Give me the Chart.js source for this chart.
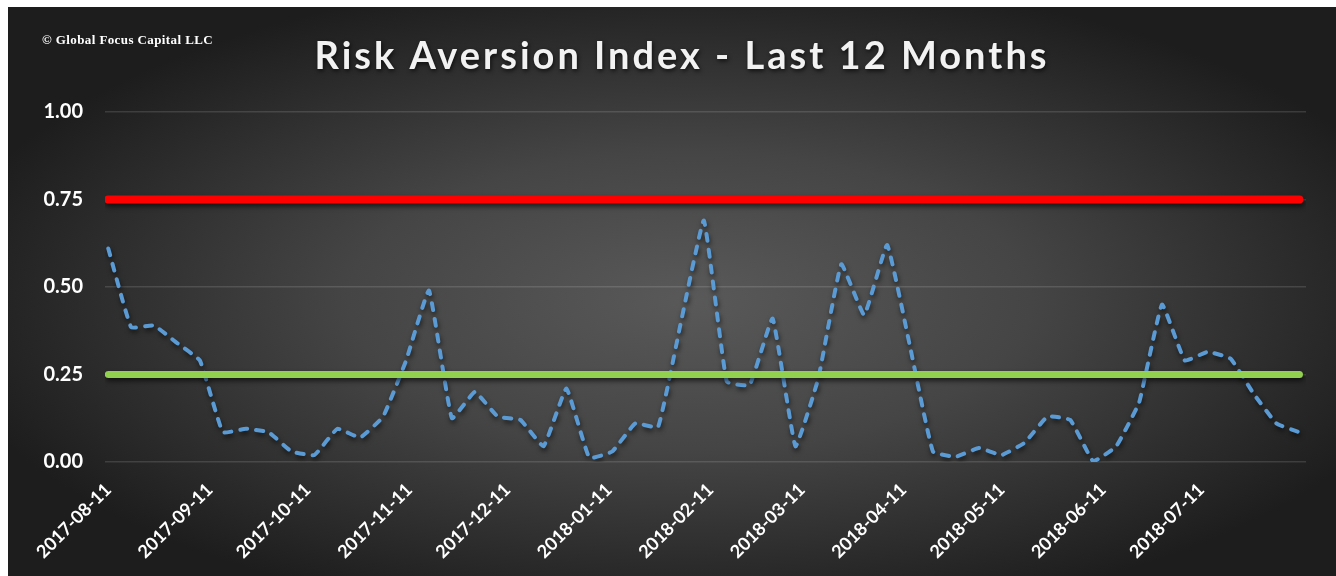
<!DOCTYPE html>
<html>
<head>
<meta charset="utf-8">
<script src="https://cdn.jsdelivr.net/npm/chart.js@4.4.1/dist/chart.umd.min.js"></script>
<style>
  html, body { margin: 0; padding: 0; background: #fff; }
  #wrap { width: 1336px; height: 576px; }
</style>
</head>
<body>
<div id="wrap"><canvas id="riskChart" width="1336" height="576"></canvas></div>
<script>
// weekly readings (Fridays)
const weekDates = [
  '2017-08-11', '2017-08-18', '2017-08-25', '2017-09-01', '2017-09-08', '2017-09-15', '2017-09-22', '2017-09-29',
  '2017-10-06', '2017-10-13', '2017-10-20', '2017-10-27', '2017-11-03', '2017-11-10', '2017-11-17', '2017-11-24',
  '2017-12-01', '2017-12-08', '2017-12-15', '2017-12-22', '2017-12-29', '2018-01-05', '2018-01-12', '2018-01-19',
  '2018-01-26', '2018-02-02', '2018-02-09', '2018-02-16', '2018-02-23', '2018-03-02', '2018-03-09', '2018-03-16',
  '2018-03-23', '2018-03-30', '2018-04-06', '2018-04-13', '2018-04-20', '2018-04-27', '2018-05-04', '2018-05-11',
  '2018-05-18', '2018-05-25', '2018-06-01', '2018-06-08', '2018-06-15', '2018-06-22', '2018-06-29', '2018-07-06',
  '2018-07-13', '2018-07-20', '2018-07-27', '2018-08-03', '2018-08-10'
];
const riskValues = [
  0.61, 0.385, 0.39, 0.34, 0.29, 0.085, 0.095, 0.085,
  0.03, 0.02, 0.095, 0.07, 0.13, 0.29, 0.49, 0.125,
  0.20, 0.13, 0.12, 0.045, 0.21, 0.012, 0.03, 0.11,
  0.10, 0.40, 0.69, 0.23, 0.22, 0.41, 0.045, 0.24,
  0.565, 0.42, 0.62, 0.33, 0.03, 0.015, 0.04, 0.02,
  0.055, 0.13, 0.12, 0.002, 0.045, 0.17, 0.45, 0.29,
  0.315, 0.295, 0.195, 0.11, 0.085
];
const monthTicks = [
  '2017-08-11', '2017-09-11', '2017-10-11', '2017-11-11', '2017-12-11', '2018-01-11',
  '2018-02-11', '2018-03-11', '2018-04-11', '2018-05-11', '2018-06-11', '2018-07-11'
];
const yTicks = [0, 0.25, 0.5, 0.75, 1];
const upperLimit = 0.75;
const lowerLimit = 0.25;
const chartTitle = 'Risk Aversion Index - Last 12 Months';
const copyrightText = '\u00A9 Global Focus Capital LLC';

function dayIndex(s) {
  return Math.round((Date.parse(s) - Date.parse(weekDates[0])) / 86400000);
}

const firstDay = dayIndex(weekDates[0]);
const lastDay = dayIndex(weekDates[weekDates.length - 1]);

const backdrop = {
  id: 'backdrop',
  beforeDraw(chart) {
    const ctx = chart.ctx;
    ctx.save();
    ctx.fillStyle = '#ffffff';
    ctx.fillRect(0, 0, chart.width, chart.height);
    const x0 = 8, y0 = 7, w = chart.width - x0, h = chart.height - y0;
    const cx = 690, cy = 300, sx = 2.3;
    ctx.translate(cx, cy);
    ctx.scale(sx, 1);
    const g = ctx.createRadialGradient(0, 0, 0, 0, 0, 330);
    g.addColorStop(0, '#595959');
    g.addColorStop(0.45, '#454545');
    g.addColorStop(1, '#1d1d1d');
    ctx.fillStyle = g;
    ctx.fillRect((x0 - cx) / sx, y0 - cy, w / sx, h);
    ctx.restore();

    ctx.save();
    ctx.fillStyle = '#f2f2f2';
    ctx.shadowColor = 'rgba(0,0,0,0.7)';
    ctx.shadowBlur = 4;
    ctx.shadowOffsetX = 1;
    ctx.shadowOffsetY = 2;
    ctx.font = 'bold 38px Lato';
    ctx.letterSpacing = '3px';
    ctx.textAlign = 'center';
    ctx.textBaseline = 'alphabetic';
    ctx.fillText(chartTitle, 682, 69);
    ctx.restore();

    ctx.save();
    ctx.fillStyle = '#ffffff';
    ctx.font = 'bold 13px "Liberation Serif"';
    ctx.letterSpacing = '0.4px';
    ctx.textAlign = 'left';
    ctx.textBaseline = 'alphabetic';
    ctx.fillText(copyrightText, 42, 44);
    ctx.restore();
  },
  beforeDatasetDraw(chart) {
    const ctx = chart.ctx;
    ctx.save();
    ctx.shadowColor = 'rgba(0,0,0,0.6)';
    ctx.shadowBlur = 5;
    ctx.shadowOffsetX = 1;
    ctx.shadowOffsetY = 3;
  },
  afterDatasetDraw(chart) {
    chart.ctx.restore();
  }
};

new Chart(document.getElementById('riskChart'), {
  type: 'line',
  data: {
    datasets: [
      {
        label: 'Lower',
        data: [{ x: firstDay, y: lowerLimit }, { x: lastDay, y: lowerLimit }],
        borderColor: '#92d050',
        borderWidth: 7,
        borderCapStyle: 'round',
        pointRadius: 0
      },
      {
        label: 'Upper',
        data: [{ x: firstDay, y: upperLimit }, { x: lastDay, y: upperLimit }],
        borderColor: '#ff0000',
        borderWidth: 8,
        borderCapStyle: 'round',
        pointRadius: 0
      },
      {
        label: 'Risk Aversion Index',
        data: weekDates.map((d, i) => ({ x: dayIndex(d), y: riskValues[i] })),
        borderColor: '#5b9bd5',
        borderWidth: 4,
        borderDash: [7, 9],
        borderCapStyle: 'round',
        borderJoinStyle: 'round',
        tension: 0.1,
        pointRadius: 0
      }
    ]
  },
  options: {
    responsive: false,
    animation: false,
    layout: { padding: { top: 112, right: 30, bottom: 0, left: 0 } },
    plugins: {
      legend: { display: false },
      tooltip: { enabled: false }
    },
    scales: {
      x: {
        type: 'linear',
        min: -1,
        max: 366,
        grid: { display: false, drawTicks: false },
        border: { display: false },
        afterBuildTicks(scale) {
          scale.ticks = monthTicks.map(d => ({ value: dayIndex(d) }));
        },
        ticks: {
          autoSkip: false,
          minRotation: 45,
          maxRotation: 45,
          padding: 17,
          color: '#ffffff',
          font: { family: 'Lato', size: 18, weight: 'bold' },
          callback: (v, i) => monthTicks[i]
        },
        afterFit(scale) { scale.height = 114; }
      },
      y: {
        min: 0,
        max: 1,
        afterBuildTicks(scale) {
          scale.ticks = yTicks.map(v => ({ value: v }));
        },
        grid: { color: 'rgba(255,255,255,0.13)', lineWidth: 1.5, drawTicks: false },
        border: { display: false },
        ticks: {
          color: '#ffffff',
          padding: 22,
          font: { family: 'Lato', size: 20, weight: 'bold' },
          callback: v => v.toFixed(2)
        },
        afterFit(scale) { scale.width = 105; }
      }
    }
  },
  plugins: [backdrop]
});
</script>
</body>
</html>
